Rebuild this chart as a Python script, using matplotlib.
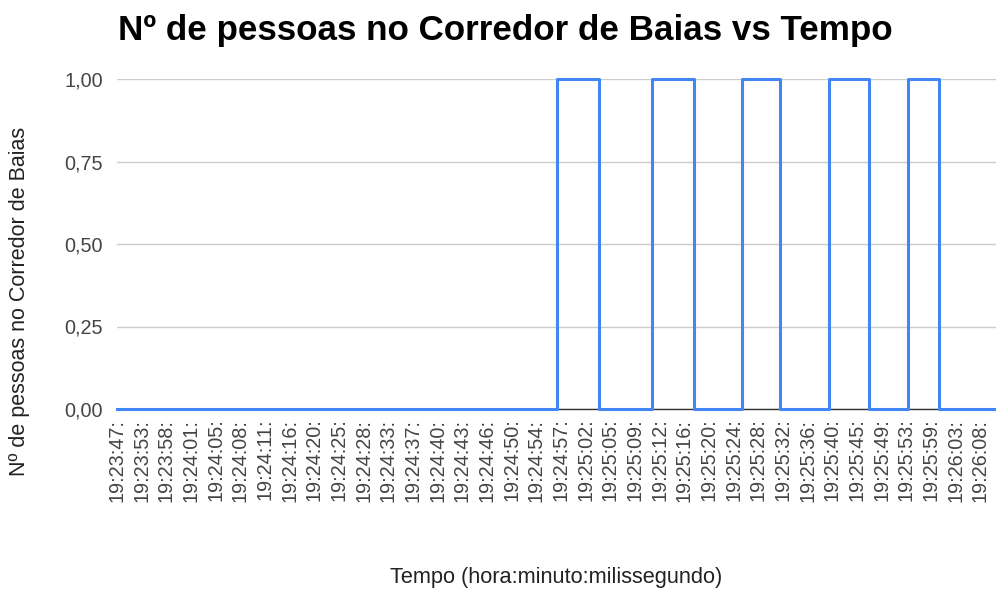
import matplotlib
matplotlib.use("Agg")
import matplotlib.pyplot as plt

plt.rcParams["font.family"] = ["Liberation Sans", "DejaVu Sans"]

# rotulos do eixo x (horario de cada leitura)
rotulos = ["19:23:47:", "19:23:53:", "19:23:58:", "19:24:01:", "19:24:05:", "19:24:08:",
           "19:24:11:", "19:24:16:", "19:24:20:", "19:24:25:", "19:24:28:", "19:24:33:",
           "19:24:37:", "19:24:40:", "19:24:43:", "19:24:46:", "19:24:50:", "19:24:54:",
           "19:24:57:", "19:25:02:", "19:25:05:", "19:25:09:", "19:25:12:", "19:25:16:",
           "19:25:20:", "19:25:24:", "19:25:28:", "19:25:32:", "19:25:36:", "19:25:40:",
           "19:25:45:", "19:25:49:", "19:25:53:", "19:25:59:", "19:26:03:", "19:26:08:"]

# instantes (na escala do eixo) em que alguem entra e sai do corredor
entradas = [17.85, 21.69, 25.34, 28.85, 32.06]
saidas = [19.55, 23.39, 26.90, 30.49, 33.33]
fim = 35.64

# monta a serie em degraus
x = [0]
y = [0]
for e, s in zip(entradas, saidas):
    x += [e, s]
    y += [1, 0]
x.append(fim)
y.append(0)

fig = plt.figure(figsize=(9.96, 5.94), dpi=100)
ax = fig.add_axes([117 / 996, 1 - 409 / 594, 879 / 996, 330 / 594])

ax.step(x, y, where="post", color="#4285F4", linewidth=2.2, clip_on=False, zorder=3)

ax.set_xlim(0, fim)
ax.set_ylim(0, 1)
ax.set_yticks([0, 0.25, 0.5, 0.75, 1.0])
ax.set_yticklabels(["0,00", "0,25", "0,50", "0,75", "1,00"])
ax.set_xticks(range(len(rotulos)))
ax.set_xticklabels(rotulos, rotation=90)

ax.grid(axis="y", color="#cccccc", linewidth=1)
ax.tick_params(axis="both", length=0, labelsize=14.3, colors="#444444")
ax.tick_params(axis="y", pad=10)
ax.tick_params(axis="x", pad=7)

for lado in ["top", "right", "left"]:
    ax.spines[lado].set_visible(False)
ax.spines["bottom"].set_color("#333333")
ax.spines["bottom"].set_linewidth(1)

ax.set_ylabel("Nº de pessoas no Corredor de Baias", fontsize=15.5, color="#222222")
ax.yaxis.label.set_va("center")
ax.yaxis.set_label_coords(-0.1104, 0.327)
ax.set_xlabel("Tempo (hora:minuto:milissegundo)", fontsize=15.7, color="#222222")
ax.xaxis.label.set_va("center")
ax.xaxis.set_label_coords(0.5, -0.512)

fig.text(505 / 996, 1 - 40 / 594, "Nº de pessoas no Corredor de Baias vs Tempo",
         ha="center", va="baseline", fontsize=25.2, fontweight="bold", color="#000000")

fig.savefig("out.png", dpi=100)
